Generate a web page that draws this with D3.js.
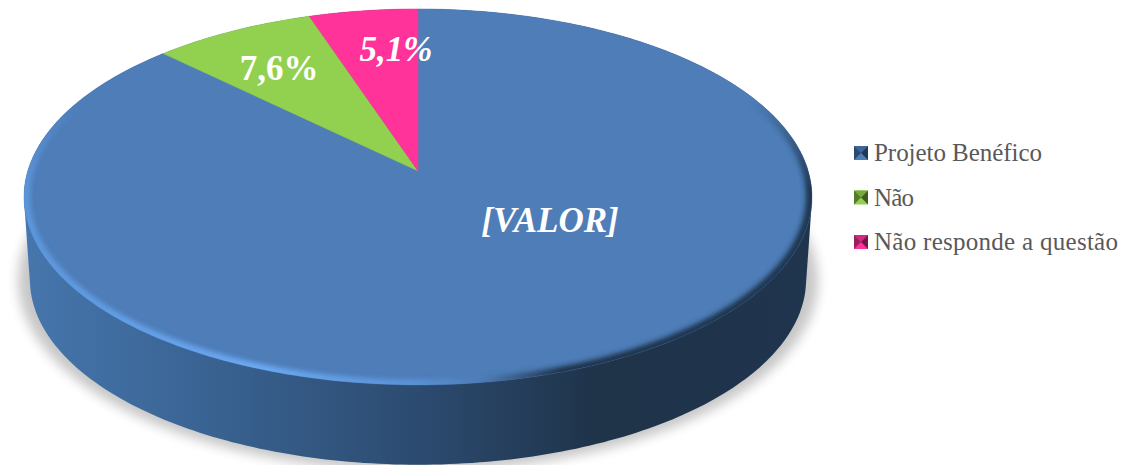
<!DOCTYPE html>
<html>
<head>
<meta charset="utf-8">
<script src="https://d3js.org/d3.v7.min.js"></script>
<style>
    html, body { margin: 0; padding: 0; background: #fff; }
    svg { display: block; }
</style>
</head>
<body>
<div id="chart"></div>
<script>
const categories = ['Projeto Benéfico', 'Não', 'Não responde a questão'];
const values = [87.3, 7.6, 5.1];
const labels = ['[VALOR]', '7,6%', '5,1%'];
const colors = ['#4e7db8', '#92d050', '#ff3399'];
const darkColors = ['#2c4a70', '#557a2c', '#99205c'];

const width = 1148;
const height = 465;

// the disc is a circle seen in perspective, apex of the slices is the circle centre
const cx = 418, cy = 171;
const rx = 390.2, ry = 184.4, tilt = 0.138;
const depth = 83;

function project(angle, shrink = 1, drop = 0) {
    const u = Math.sin(angle);
    const v = Math.cos(angle);
    const w = 1 + tilt * v;
    return [cx + shrink * rx * u / w, cy + drop + shrink * -ry * v / w];
}

const angles = d3.range(0, 360).map(d => d * Math.PI / 180);
const line = d3.line();

const svg = d3.select('#chart')
    .append('svg')
    .attr('width', width)
    .attr('height', height);

const defs = svg.append('defs');

const sideGradient = defs.append('linearGradient')
    .attr('id', 'side')
    .attr('gradientUnits', 'userSpaceOnUse')
    .attr('x1', 24).attr('x2', 812).attr('y1', 0).attr('y2', 0);
[['0%', '#4676ad'], ['22%', '#3a6494'], ['50%', '#2c4b70'], ['73%', '#1f3349'], ['100%', '#1f344e']]
    .forEach(s => sideGradient.append('stop').attr('offset', s[0]).attr('stop-color', s[1]));

const rimGradient = defs.append('linearGradient')
    .attr('id', 'rim')
    .attr('gradientUnits', 'userSpaceOnUse')
    .attr('x1', 24).attr('x2', 812).attr('y1', 0).attr('y2', 0);
[['0%', '#5c97dc'], ['30%', '#6dabf5'], ['50%', '#5a92d6'], ['58%', '#4e7db8'], ['68%', '#1f3349'], ['100%', '#1f344e']]
    .forEach(s => rimGradient.append('stop').attr('offset', s[0]).attr('stop-color', s[1]));

const fadeGradient = defs.append('linearGradient')
    .attr('id', 'fade')
    .attr('gradientUnits', 'userSpaceOnUse')
    .attr('x1', 0).attr('x2', 0).attr('y1', 100).attr('y2', 190);
fadeGradient.append('stop').attr('offset', '0%').attr('stop-color', '#000');
fadeGradient.append('stop').attr('offset', '100%').attr('stop-color', '#fff');

defs.append('mask').attr('id', 'rimFade')
    .attr('maskUnits', 'userSpaceOnUse')
    .attr('x', 0).attr('y', 0).attr('width', width).attr('height', height)
    .append('rect').attr('width', width).attr('height', height).attr('fill', 'url(#fade)');

defs.append('filter').attr('id', 'blurRim')
    .attr('x', '-5%').attr('y', '-5%').attr('width', '110%').attr('height', '110%')
    .append('feGaussianBlur').attr('stdDeviation', 2.5);
defs.append('filter').attr('id', 'blurShadow')
    .attr('x', '-10%').attr('y', '-10%').attr('width', '120%').attr('height', '120%')
    .append('feGaussianBlur').attr('stdDeviation', 6);

const topPoints = angles.map(a => project(a));
const bottomPoints = angles.map(a => project(a, 0.985, depth));

defs.append('clipPath').attr('id', 'topClip')
    .append('path').attr('d', line(topPoints) + 'Z');

// drop shadow under the disc
svg.append('path')
    .attr('d', line(angles.map(a => project(a, 1.015, depth))) + 'Z')
    .attr('fill', '#000')
    .attr('opacity', 0.22)
    .attr('filter', 'url(#blurShadow)');

// side wall, hull of the top and bottom outlines
svg.append('path')
    .attr('d', line(d3.polygonHull(topPoints.concat(bottomPoints))) + 'Z')
    .attr('fill', 'url(#side)');

// slices come from d3.pie, start at 12 o'clock going clockwise
const pie = d3.pie().sort(null).value(d => d);
const arcs = pie(values);

function slicePath(d) {
    const steps = d3.range(0, 121).map(i => d.startAngle + (d.endAngle - d.startAngle) * i / 120);
    return line([[cx, cy], ...steps.map(a => project(a))]) + 'Z';
}

svg.append('g')
    .selectAll('path')
    .data(arcs)
    .enter()
    .append('path')
    .attr('d', slicePath)
    .attr('fill', (d, i) => colors[i])
    .attr('stroke', (d, i) => colors[i])
    .attr('stroke-width', 0.5);

// bevel around the edge of the top face
svg.append('g')
    .attr('clip-path', 'url(#topClip)')
    .append('g')
    .attr('mask', 'url(#rimFade)')
    .append('path')
    .attr('d', line(angles.map(a => project(a, 0.996))) + 'Z')
    .attr('fill', 'none')
    .attr('stroke', 'url(#rim)')
    .attr('stroke-width', 9)
    .attr('filter', 'url(#blurRim)');

// slice labels
const labelPositions = [[550, 232], [279, 80], [396, 61]];
svg.append('g')
    .selectAll('text')
    .data(labels)
    .enter()
    .append('text')
    .attr('x', (d, i) => labelPositions[i][0])
    .attr('y', (d, i) => labelPositions[i][1])
    .attr('text-anchor', 'middle')
    .attr('font-family', '"Liberation Serif", serif')
    .attr('font-weight', 'bold')
    .attr('font-style', (d, i) => i === 1 ? 'normal' : 'italic')
    .attr('font-size', 35)
    .attr('fill', '#fff')
    .text(d => d);

// legend with the little pyramid markers
const legendY = d3.scalePoint().domain(categories).range([153, 242]);
const legendTextWidths = [168, 40, 244];
const marker = 14;
const legend = svg.append('g')
    .selectAll('g')
    .data(categories)
    .enter()
    .append('g')
    .attr('transform', d => `translate(854,${legendY(d) - marker / 2})`);

legend.each(function (d, i) {
    const g = d3.select(this);
    const m = marker, c = marker / 2;
    g.append('rect').attr('width', m).attr('height', m).attr('fill', colors[i]);
    g.append('path').attr('d', `M0,0L${m},0L${c},${c}Z`).attr('fill', d3.interpolateRgb(colors[i], darkColors[i])(0.45));
    g.append('path').attr('d', `M0,0L0,${m}L${c},${c}Z`).attr('fill', darkColors[i]);
    g.append('path').attr('d', `M${m},0L${m},${m}L${c},${c}Z`).attr('fill', d3.color(darkColors[i]).darker(0.8));
});

legend.append('text')
    .attr('x', 20)
    .attr('y', marker / 2 + 8)
    .attr('font-family', '"Liberation Serif", serif')
    .attr('font-size', 25)
    .attr('textLength', (d, i) => legendTextWidths[i])
    .attr('lengthAdjust', 'spacing')
    .attr('fill', '#595959')
    .text(d => d);
</script>
</body>
</html>
